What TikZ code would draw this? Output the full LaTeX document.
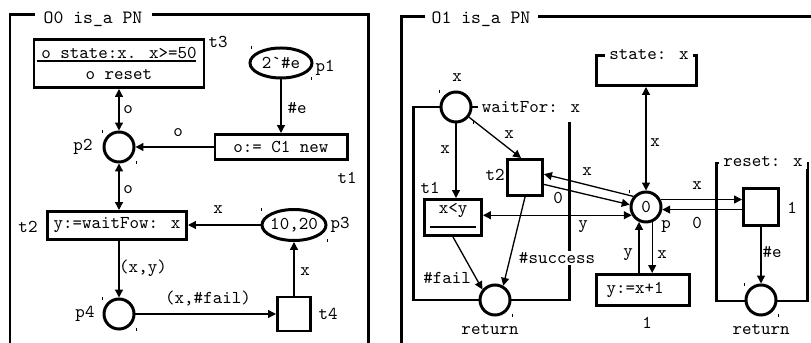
\documentclass[tikz,border=0pt]{standalone}
\usepackage{fontspec}
\usetikzlibrary{arrows.meta,shapes.geometric}

\newcommand\selmarks[3]{%
  \draw[selmark] ([shift={(-#2,-#3)}]#1.center) -- ++(0,3);
  \draw[selmark] ([shift={(#2,#3)}]#1.center) -- ++(0,-3);}

\begin{document}
\begin{tikzpicture}[
    x=0.2mm,y=-0.2mm,>={Triangle[length=4.5pt,width=4.5pt]},
    every node/.style={font=\ttfamily\fontsize{10.3}{11.6}\selectfont,inner sep=1pt},
    ttl/.style={font=\ttfamily\fontsize{10.7}{12}\selectfont},
    netplace/.style={circle,draw,line width=1.7pt,fill=white,minimum size=6mm,inner sep=0pt},
    netpool/.style={ellipse,draw,line width=1.7pt,fill=white,inner sep=0pt},
    trans/.style={rectangle,draw,line width=1.7pt,fill=white,inner sep=2pt,align=center},
    bracket/.style={draw,line width=1.7pt},
    boxttl/.style={fill=white,inner xsep=0.8mm,inner ysep=1pt},
    pnframe/.style={line width=1.7pt},
    arc/.style={->,line width=0.75pt},
    biarc/.style={<->,line width=0.75pt},
    selmark/.style={line width=0.4pt},
    divider/.style={line width=0.8pt}
]
\useasboundingbox (0,0) rectangle (811,343);

\node[ttl] (ttl0) at (93,19) {O0 is\_a PN};
\draw[pnframe] (35,15) -- (10,15) -- (10,343);
\draw[pnframe] (152,15) -- (368,15) -- (368,343);
\node[trans,minimum width=34mm,minimum height=9.6mm] (t3) at (119,63.5) {o state:x. x>=50\\o reset};
\draw[divider] ([shift={(4,-2.5)}]t3.west) -- ([shift={(-9,-2.5)}]t3.east);
\node[netpool,minimum width=12.4mm,minimum height=6mm] (p1) at (281,63) {2`\#e};
\node[trans,minimum width=26.4mm,minimum height=5mm] (t1) at (281,147) {o:= C1 new};
\node[netplace] (p2) at (119,147) {};
\node[trans,minimum width=27.8mm,minimum height=5.6mm] (t2) at (117,225.5) {y:=waitFow: x};
\node[netpool,minimum width=12.8mm,minimum height=6.2mm,inner xsep=-0.4mm] (p3) at (294,225) {10,20};
\node[netplace] (p4) at (119,314) {};
\node[trans,minimum width=6.6mm,minimum height=6.8mm] (t4) at (294,314) {};
\node (t3l) at (218,42) {t3};
\node (p1l) at (325,68) {p1};
\node (t1l) at (347,178) {t1};
\node (p2l) at (83,147) {p2};
\node (t2l) at (28,227) {t2};
\node (p3l) at (340,225) {p3};
\node (p4l) at (85,314) {p4};
\node (t4l) at (328,314) {t4};
\draw[arc] (p1) -- (t1);
\draw[arc] (t1) -- (p2);
\draw[biarc] (t3) -- (p2);
\draw[biarc] (p2) -- (p2 |- t2.north);
\draw[arc] (p3) -- (p3 -| t2.east);
\draw[arc] (t2.south -| p4) -- (p4);
\draw[arc] (p4) -- (t4);
\draw[arc] (t4) -- (p3);
\node (a1) at (297,108) {\#e};
\node (a2) at (178,133) {o};
\node (a3) at (128,110) {o};
\node (a4) at (128,190) {o};
\node (a5) at (218,210) {x};
\node (a6) at (143,268) {(x,y)};
\node (a7) at (208,298) {(x,\#fail)};
\node (a8) at (305,272) {x};
\selmarks{p1}{30}{17}
\selmarks{p2}{17}{17}
\selmarks{p3}{33}{17}
\selmarks{p4}{17}{17}

\node[ttl] (ttl1) at (481,19) {O1 is\_a PN};
\draw[pnframe] (425,17) -- (401,17) -- (401,343);
\draw[pnframe] (538,17) -- (811,17);
\node[bracket,minimum width=20mm,minimum height=6mm] (state) at (646,70.5) {};
\node[boxttl] (statettl) at (649,55) {state: x};
\node[bracket,minimum width=18.2mm,minimum height=27.6mm] (rbox) at (762,232) {};
\node[boxttl] (rboxttl) at (763,162) {reset: x};
\draw[bracket] (480,107) -| (413,300) -- (569,300) -- (569,122);
\node[boxttl] (waitttl) at (531,107) {waitFor: x};
\node[netplace] (waitp) at (456,107) {};
\node[netplace] (p) at (646,207) {0};
\node[netplace] (retL) at (495,300) {};
\node[netplace] (retR) at (761,300) {};
\node[trans,minimum width=7mm,minimum height=7.2mm] (t2r) at (525,177.5) {};
\node[trans,minimum width=11.4mm,minimum height=7.2mm,text height=1.8mm,text depth=3.2mm] (t1r) at (453,217.5) {x<y};
\draw[divider] ([shift={(-23,9.5)}]t1r.center) -- ([shift={(23,9.5)}]t1r.center);
\node[trans,minimum width=18.6mm,minimum height=6.2mm,text width=14.6mm,inner xsep=2mm,align=left] (inc) at (643,290) {y:=x+1};
\node[trans,minimum width=7mm,minimum height=7.4mm] (rst) at (761,207) {};
\node (waitpl) at (457,78) {x};
\node (pl) at (666,227) {p};
\node (t2rl) at (495,175) {t2};
\node (t1rl) at (430,188) {t1};
\node (incl) at (647,323) {1};
\node (rstl) at (792,208) {1};
\node (retLl) at (490,330) {return};
\node (retRl) at (761,330) {return};
\draw[biarc] (state.south -| p) -- (p);
\draw[arc] (waitp) -- ([xshift=-0.8mm]t2r.north);
\draw[arc] (waitp) -- (waitp |- t1r.north);
\draw[arc] (p.140) -- (t2r.10);
\draw[arc] (t2r.-20) -- (p.172);
\draw[biarc] (t1r.east |- p.-150) -- (p.-150);
\draw[arc] (t1r.south) -- (retL.140);
\draw[arc] (t2r.south) -- (retL.60);
\draw[arc] (p.27) -- (p.27 -| rst.west);
\draw[arc] (rst.west |- p.-9) -- (p.-9);
\draw[arc] (rst) -- (retR);
\draw[arc] (p.-115 |- inc.north) -- (p.-115);
\draw[arc] (p.-68) -- (p.-68 |- inc.north);
\node (b1) at (509,135) {x};
\node (b2) at (445,150) {x};
\node (b3) at (587,172) {x};
\node (b4) at (558,198) {0};
\node (b5) at (583,227) {y};
\node[fill=white] (b6) at (557,258) {\#success};
\node (b7) at (447,278) {\#fail};
\node (b8) at (655,143) {x};
\node (b9) at (697,186) {x};
\node (b10) at (697,223) {0};
\node (b11) at (628,255) {y};
\node (b12) at (662,255) {x};
\node (b13) at (772,252) {\#e};
\selmarks{waitp}{17}{17}
\selmarks{p}{17}{17}
\selmarks{retL}{17}{17}
\selmarks{retR}{17}{17}
\end{tikzpicture}
\end{document}
